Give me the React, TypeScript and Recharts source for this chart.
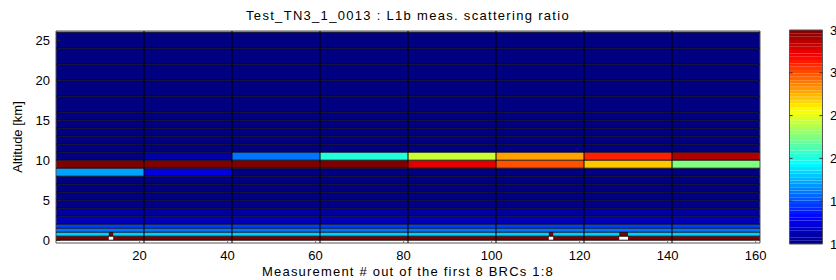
import { ComposedChart, XAxis, YAxis, ReferenceArea, ReferenceLine } from 'recharts';

// measurement blocks (8 BRCs of 20 measurements each)
const blockEdges = [1, 21, 41, 61, 81, 101, 121, 141, 161];
// altitude bin edges [km]
const altEdges = [0, 0.5, 1, 1.5, 2, 3, 4, 5, 6, 7, 8, 9, 10, 11, 12, 13, 14, 15, 16, 18, 20, 22, 24, 26];
// scattering ratio per altitude bin (bottom up), same for every block
const profile = [3.5, 1.82, 1.6, 1.47, 1.14, 1.08, 1.02, 1, 1, 1, 1, 3.5, 1, 1, 1, 1, 1, 1, 1, 1, 1, 1, 1];
// cloud layer, one value per block
const cloud8to9 = [1.71, 1.24, 1, 1, 1, 1, 1, 1];
const cloud9to10 = [3.5, 3.5, 3.5, 3.5, 3.26, 2.99, 2.7, 2.25];
const cloud10to11 = [1, 1.1, 1.6, 2.02, 2.43, 2.79, 3.11, 3.38];
// ground bin gaps (no data) with saturated bin above
const gapStart = [13, 113, 129];
const gapEnd = [14, 114, 131];

const xTicks = [20, 40, 60, 80, 100, 120, 140, 160];
const yTicks = [0, 5, 10, 15, 20, 25];
const cbTicks = [1, 1.5, 2, 2.5, 3, 3.5];
const cMin = 1;
const cMax = 3.5;

const X_DOMAIN: [number, number] = [1, 161];
const Y_DOMAIN: [number, number] = [-0.35, 26.15];
// colorbar sits right of the axes, in measurement units of the x scale
const CB_X1 = 167.7;
const CB_X2 = 175.2;
const CB_DOMAIN: [number, number] = [1.0117, 3.4883];

const FONT = '"Liberation Sans", Arial, sans-serif';

function clamp(v: number) {
  return Math.max(0, Math.min(1, v));
}

function jet(v: number): string {
  const t = clamp((v - cMin) / (cMax - cMin));
  const r = clamp(Math.min(4 * t - 1.5, -4 * t + 4.5));
  const g = clamp(Math.min(4 * t - 0.5, -4 * t + 3.5));
  const b = clamp(Math.min(4 * t + 0.5, -4 * t + 2.5));
  const h = (c: number) => Math.round(c * 255).toString(16).padStart(2, '0');
  return `#${h(r)}${h(g)}${h(b)}`;
}

function cellValue(bin: number, block: number): number {
  if (bin === 10) return cloud8to9[block];
  if (bin === 11) return cloud9to10[block];
  if (bin === 12) return cloud10to11[block];
  return profile[bin];
}

const cells: { x1: number; x2: number; y1: number; y2: number; v: number }[] = [];
for (let b = 0; b < blockEdges.length - 1; b++) {
  for (let k = 0; k < altEdges.length - 1; k++) {
    cells.push({ x1: blockEdges[b], x2: blockEdges[b + 1], y1: altEdges[k], y2: altEdges[k + 1], v: cellValue(k, b) });
  }
}

// colorbar slices (jet 64)
const cbStep = (cMax - cMin) / 64;
const cbSteps = Array.from({ length: 64 }, (_, i) => cMin + cbStep * i);

const tickStyle = { fill: '#000', fontSize: 13, fontFamily: FONT };

export default function App() {
  return (
    <div style={{ position: 'absolute', left: 0, top: 0, width: 836, height: 280, overflow: 'hidden', background: '#fff', fontFamily: FONT }}>
      <div style={{ position: 'absolute', left: 56, width: 704, top: 8, textAlign: 'center', fontSize: 13, letterSpacing: 1.3, lineHeight: '16px', color: '#000' }}>
        Test_TN3_1_0013 : L1b meas. scattering ratio
      </div>
      <div style={{ position: 'absolute', left: 56, width: 704, top: 264, textAlign: 'center', fontSize: 13, letterSpacing: 1.2, lineHeight: '16px', color: '#000' }}>
        Measurement # out of the first 8 BRCs 1:8
      </div>
      <div style={{ position: 'absolute', left: 18, top: 137, transform: 'translate(-50%, -50%) rotate(-90deg)', whiteSpace: 'nowrap', fontSize: 13, lineHeight: '16px', color: '#000' }}>
        Altitude [km]
      </div>
      <div style={{ position: 'absolute', left: 0, top: 0 }}>
        <ComposedChart width={836} height={280} margin={{ top: 31, right: 0, bottom: 7, left: 0 }}>
          <XAxis type="number" dataKey="x" domain={X_DOMAIN} ticks={xTicks} allowDataOverflow height={30}
            axisLine={false} tickLine={false} tickSize={0} tickMargin={8} tick={tickStyle} />
          <YAxis type="number" domain={Y_DOMAIN} ticks={yTicks} allowDataOverflow width={56}
            axisLine={false} tickLine={false} tickSize={0} tickMargin={6} tick={tickStyle} />
          <YAxis yAxisId="cb" type="number" domain={CB_DOMAIN} ticks={cbTicks} allowDataOverflow orientation="right" width={76}
            axisLine={false} tickLine={false} tickSize={0} tickMargin={70} tick={tickStyle} />
          {cells.map((c, i) => (
            <ReferenceArea key={'c' + i} x1={c.x1} x2={c.x2} y1={c.y1} y2={c.y2}
              fill={jet(c.v)} fillOpacity={1} stroke="none" ifOverflow="visible" />
          ))}
          {gapStart.map((s, i) => (
            <ReferenceArea key={'g' + i} x1={s} x2={gapEnd[i]} y1={0} y2={0.5} fill="#fff" fillOpacity={1} stroke="none" ifOverflow="visible" />
          ))}
          {gapStart.map((s, i) => (
            <ReferenceArea key={'s' + i} x1={s} x2={gapEnd[i]} y1={0.5} y2={1} fill={jet(cMax)} fillOpacity={1} stroke="none" ifOverflow="visible" />
          ))}
          {altEdges.map((a) => (
            <ReferenceLine key={'h' + a} y={a} stroke="#000" strokeWidth={1} strokeOpacity={0.85} ifOverflow="visible" />
          ))}
          {blockEdges.slice(1, -1).map((e) => (
            <ReferenceLine key={'v' + e} x={e} stroke="#000" strokeWidth={1} ifOverflow="visible" />
          ))}
          {xTicks.map((t) => (
            <ReferenceLine key={'xt' + t} segment={[{ x: t, y: Y_DOMAIN[0] }, { x: t, y: 0 }]} stroke="#777" ifOverflow="visible" />
          ))}
          {yTicks.map((t) => (
            <ReferenceLine key={'yt' + t} segment={[{ x: X_DOMAIN[0], y: t }, { x: X_DOMAIN[0] + 1, y: t }]} stroke="#222" ifOverflow="visible" />
          ))}
          <ReferenceArea x1={X_DOMAIN[0]} x2={X_DOMAIN[1]} y1={Y_DOMAIN[0]} y2={Y_DOMAIN[1]} fill="none" stroke="#555" strokeWidth={1} ifOverflow="visible" />
          {cbSteps.map((s, i) => (
            <ReferenceArea key={'cb' + i} yAxisId="cb" x1={CB_X1} x2={CB_X2} y1={s} y2={s + cbStep}
              fill={jet(s + cbStep / 2)} fillOpacity={1} stroke="none" ifOverflow="visible" />
          ))}
          {cbTicks.slice(1, -1).map((t) => (
            <ReferenceLine key={'cl' + t} yAxisId="cb" segment={[{ x: CB_X1, y: t }, { x: CB_X1 + 0.7, y: t }]} stroke="#333" ifOverflow="visible" />
          ))}
          {cbTicks.slice(1, -1).map((t) => (
            <ReferenceLine key={'cr' + t} yAxisId="cb" segment={[{ x: CB_X2 - 0.7, y: t }, { x: CB_X2, y: t }]} stroke="#333" ifOverflow="visible" />
          ))}
          <ReferenceArea yAxisId="cb" x1={CB_X1} x2={CB_X2} y1={cMin} y2={cMax} fill="none" stroke="#555" strokeWidth={1} ifOverflow="visible" />
        </ComposedChart>
      </div>
    </div>
  );
}
